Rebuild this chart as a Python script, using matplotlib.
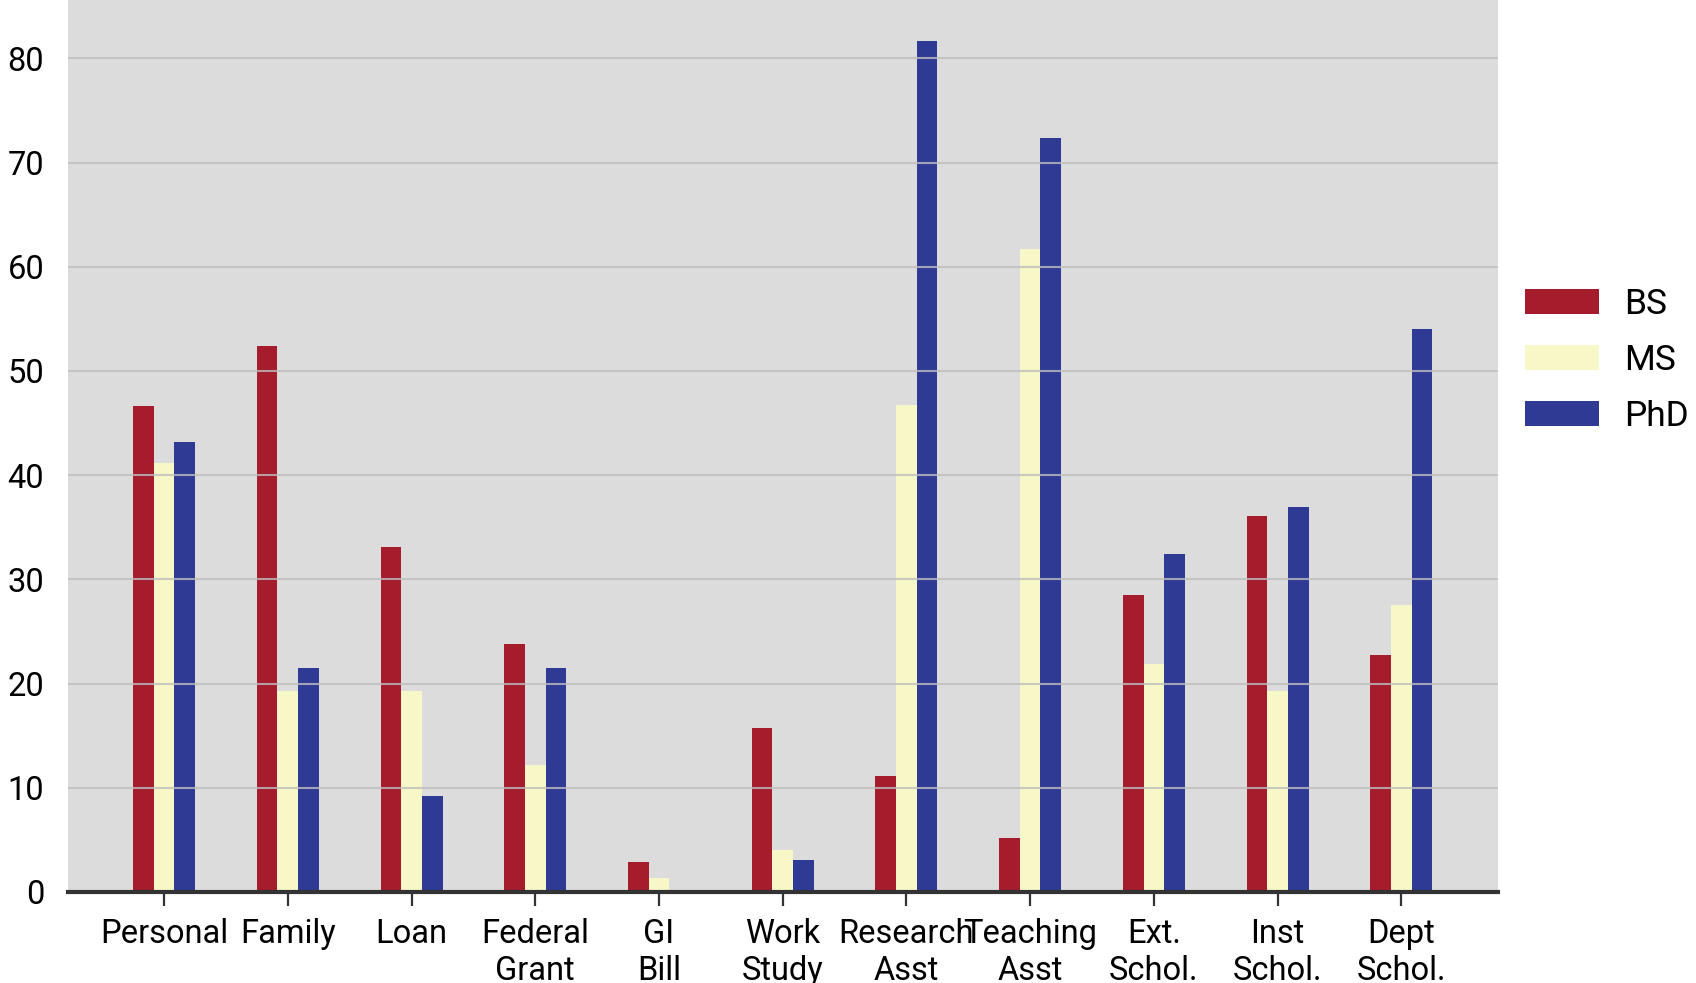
import numpy as np
import matplotlib.pyplot as plt

plt.rcParams['font.family'] = ['Roboto', 'DejaVu Sans']

categories = ["Personal", "Family", "Loan", "Federal\nGrant", "GI\nBill", "Work\nStudy",
              "Research\nAsst", "Teaching\nAsst", "Ext.\nSchol.", "Inst\nSchol.", "Dept\nSchol."]
bs = [46.6, 52.4, 33.1, 23.8, 2.9, 15.7, 11.1, 5.2, 28.5, 36.1, 22.7]
ms = [41.2, 19.3, 19.3, 12.2, 1.35, 4.0, 46.7, 61.7, 21.9, 19.3, 27.5]
phd = [43.2, 21.5, 9.2, 21.5, 0.0, 3.1, 81.7, 72.4, 32.4, 36.9, 54.0]

series = [("BS", bs, "#A51C2D"), ("MS", ms, "#F8F7C8"), ("PhD", phd, "#2F3A94")]

fig = plt.figure(figsize=(16.96, 9.83), dpi=100)
ax = fig.add_axes([0.040, 0.0926, 0.843, 0.9074])
ax.set_facecolor("#DCDCDC")

x = np.arange(len(categories))
w = 0.167
for i, (name, vals, col) in enumerate(series):
    ax.bar(x + (i - 1) * w, vals, width=w, color=col, label=name, zorder=1)

ax.set_xlim(-0.778, len(categories) - 1 + 0.778)
ax.set_ylim(0, 85.6)
ax.set_yticks(range(0, 90, 10))
ax.set_xticks(x)
ax.set_xticklabels(categories, linespacing=1.2)

ax.grid(axis='y', color='#BEBEBE', linewidth=1.5, alpha=0.8, zorder=2)
ax.set_axisbelow(False)

for s in ['top', 'right', 'left']:
    ax.spines[s].set_visible(False)
ax.spines['bottom'].set_color('#333333')
ax.spines['bottom'].set_linewidth(3)
ax.spines['bottom'].set_zorder(3)

ax.tick_params(axis='x', length=10, width=1.6, color='#333333', labelsize=23.5, pad=9)
ax.tick_params(axis='y', length=0, labelsize=23.5, pad=17)

ax.legend(loc='center left', bbox_to_anchor=(1.009, 0.596), frameon=False, fontsize=25.5,
          handlelength=2.1, handleheight=0.7, handletextpad=0.72, labelspacing=0.64,
          borderaxespad=0)

fig.savefig("out.png", dpi=100)
